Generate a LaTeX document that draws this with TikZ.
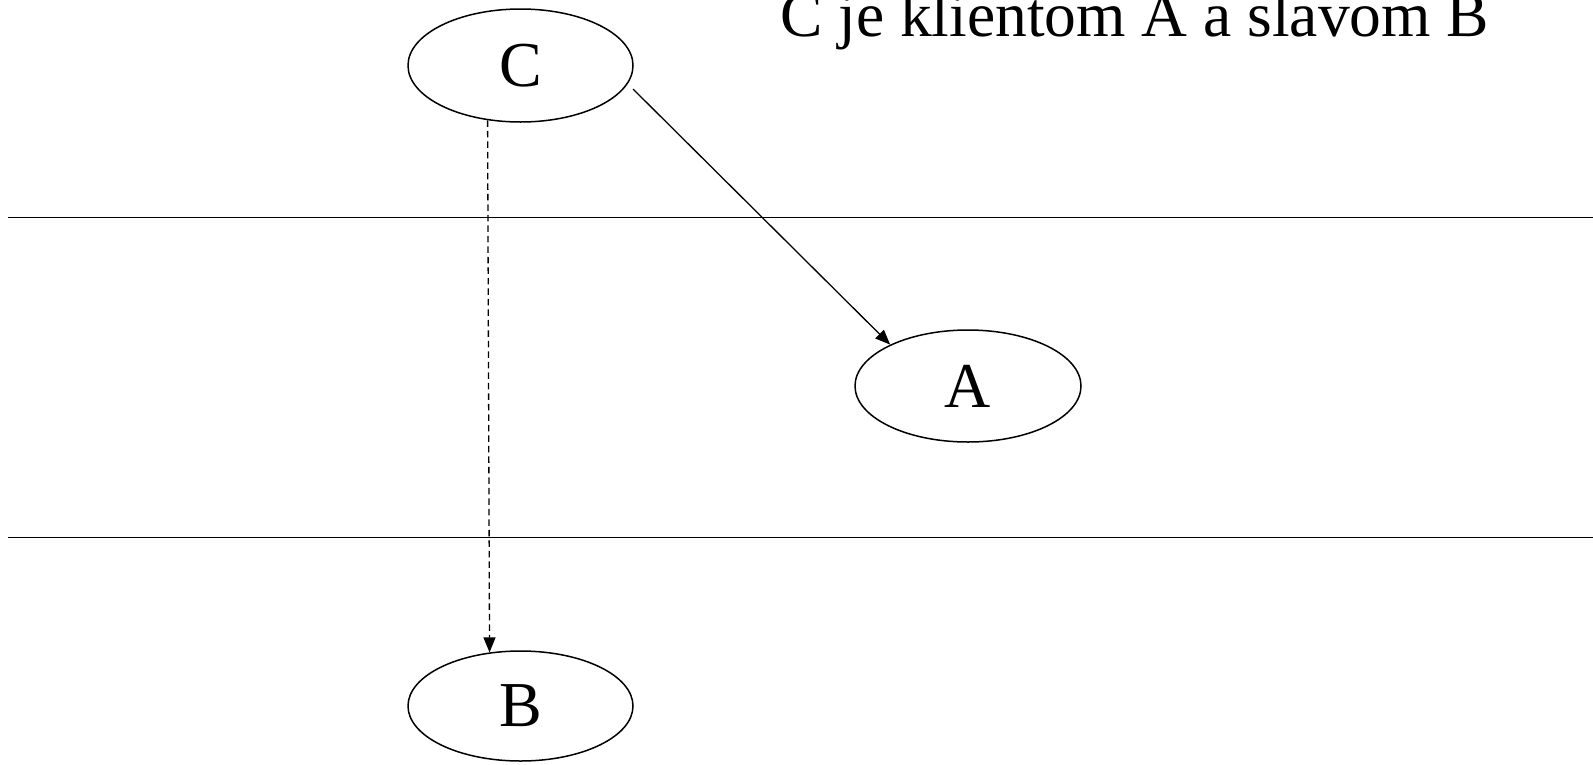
\documentclass[tikz,border=0pt]{standalone}
\usepackage{fontspec}
\setmainfont{Liberation Serif}
\usetikzlibrary{shapes.geometric,arrows.meta}
\begin{document}
\begin{tikzpicture}[x=1pt,y=-1pt,
  oval/.style={draw,ellipse,line width=1.5pt,inner sep=0pt,font=\fontsize{64}{70}\selectfont},
  rule/.style={line width=1.6pt},
  link/.style={line width=1.3pt,-{Triangle[length=15pt,width=12pt]}},
  dlink/.style={link,dash pattern=on 6.5pt off 4pt}]
\useasboundingbox (0,0) rectangle (1593,764);
\node[oval,minimum width=225pt,minimum height=113pt] (C) at (520.5,65.5) {C};
\node[oval,minimum width=226pt,minimum height=112pt] (A) at (968,386) {A};
\node[oval,minimum width=225pt,minimum height=110pt] (B) at (520.5,706) {B};
\node[anchor=base west,inner sep=0pt,font=\fontsize{63.5}{70}\selectfont] (T) at (780,36) {C je klientom A a slavom B};
\coordinate (L1a) at (8,217.5);
\coordinate (L1b) at (1593,217.5);
\coordinate (L2a) at (8,537.5);
\coordinate (L2b) at (1593,537.5);
\draw[rule] (L1a) -- (L1b);
\draw[rule] (L2a) -- (L2b);
\coordinate (cs) at (633,89);
\draw[link] (cs) -- (A.152.6);
\draw[dlink] (C.239.9) -- (B.120.4);
\end{tikzpicture}
\end{document}
